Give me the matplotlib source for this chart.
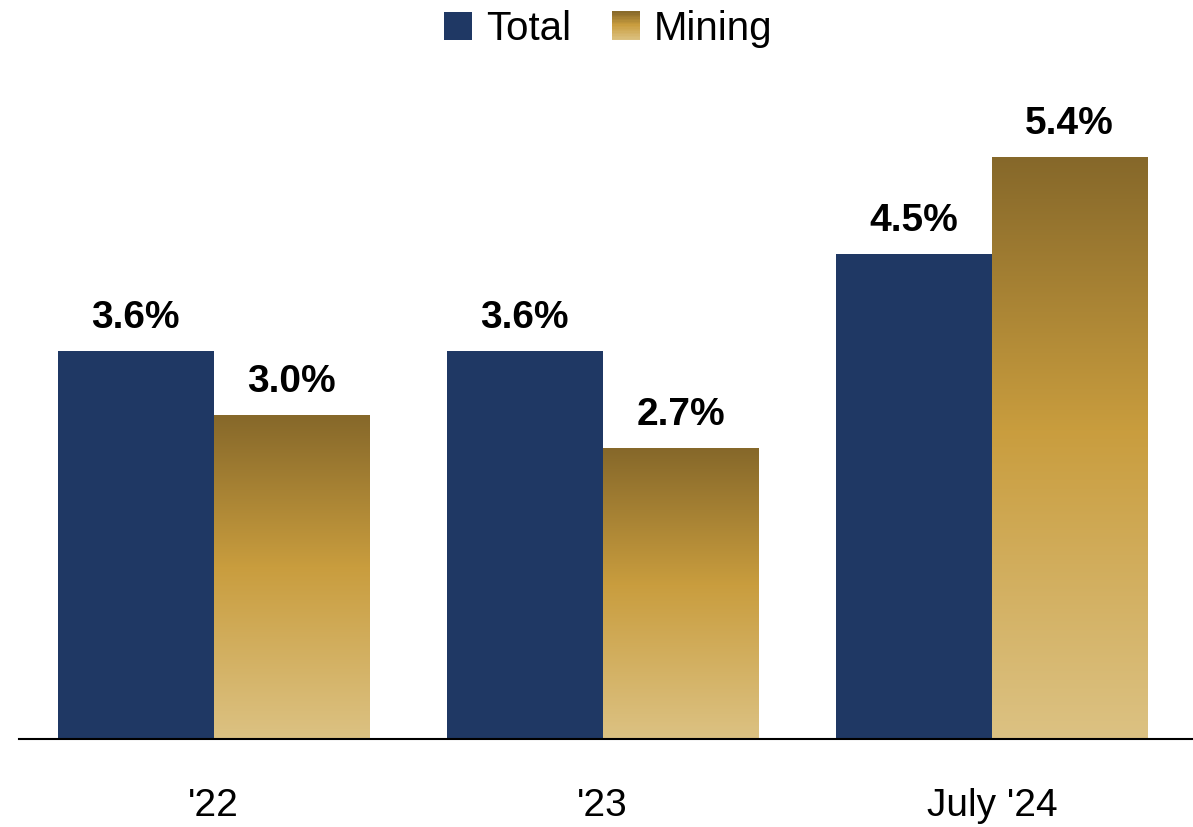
import numpy as np
import matplotlib.pyplot as plt
from matplotlib.colors import LinearSegmentedColormap
from matplotlib.legend_handler import HandlerBase
from matplotlib.patches import Rectangle
from matplotlib import font_manager

categories = ["'22", "'23", "July '24"]
total = [3.6, 3.6, 4.5]
mining = [3.0, 2.7, 5.4]

navy = '#1f3864'
gold = LinearSegmentedColormap.from_list(
    'gold', [(0.0, '#86682a'), (0.47, '#c99d3e'), (1.0, '#dcc283')])

names = {f.name for f in font_manager.fontManager.ttflist}
fam = 'Liberation Sans Narrow' if 'Liberation Sans Narrow' in names else 'Liberation Sans'
plt.rcParams['font.family'] = [fam, 'DejaVu Sans']

fig = plt.figure(figsize=(11.93, 8.27), dpi=100)
ax = fig.add_axes([19 / 1193, 88 / 827, 1 - 19 / 1193, 679 / 827])

x = np.arange(len(categories))
w = 0.4
b1 = ax.bar(x - w / 2, total, w, color=navy, label='Total')
b2 = ax.bar(x + w / 2, mining, w, color='none', label='Mining')

grad = np.linspace(0, 1, 256).reshape(-1, 1)
for r in b2:
    x0, h = r.get_x(), r.get_height()
    ax.imshow(grad, cmap=gold, aspect='auto', origin='upper',
              extent=[x0, x0 + r.get_width(), 0, h], zorder=1)

for bars, vals in ((b1, total), (b2, mining)):
    for r, v in zip(bars, vals):
        ax.annotate(f'{v:.1f}%', (r.get_x() + r.get_width() / 2, v),
                    xytext=(0, 11), textcoords='offset points',
                    ha='center', va='bottom', fontsize=28, fontweight='bold')

ax.set_xlim(-0.5, 2.517)
ax.set_ylim(0, 6.3)
ax.set_yticks([])
ax.set_xticks(x)
ax.set_xticklabels(categories, fontsize=28)
ax.tick_params(axis='x', length=0, pad=35)
for s in ('top', 'right', 'left'):
    ax.spines[s].set_visible(False)
ax.spines['bottom'].set_linewidth(1.5)


class GradHandler(HandlerBase):
    def create_artists(self, legend, orig, xd, yd, width, height, fontsize, trans):
        n = 20
        arts = []
        for i in range(n):
            c = gold(1 - (i + 0.5) / n)
            arts.append(Rectangle((xd, yd + height * i / n), width, height / n + 0.3,
                                  facecolor=c, edgecolor='none', transform=trans))
        return arts


fig.legend(handles=[b1, b2], labels=['Total', 'Mining'], loc='center',
           bbox_to_anchor=(0.51, 0.965), ncol=2, frameon=False, fontsize=29,
           handlelength=0.7, handleheight=0.7, handletextpad=0.35,
           columnspacing=1.0, handler_map={b2: GradHandler()})

fig.savefig('out.png', dpi=100)
